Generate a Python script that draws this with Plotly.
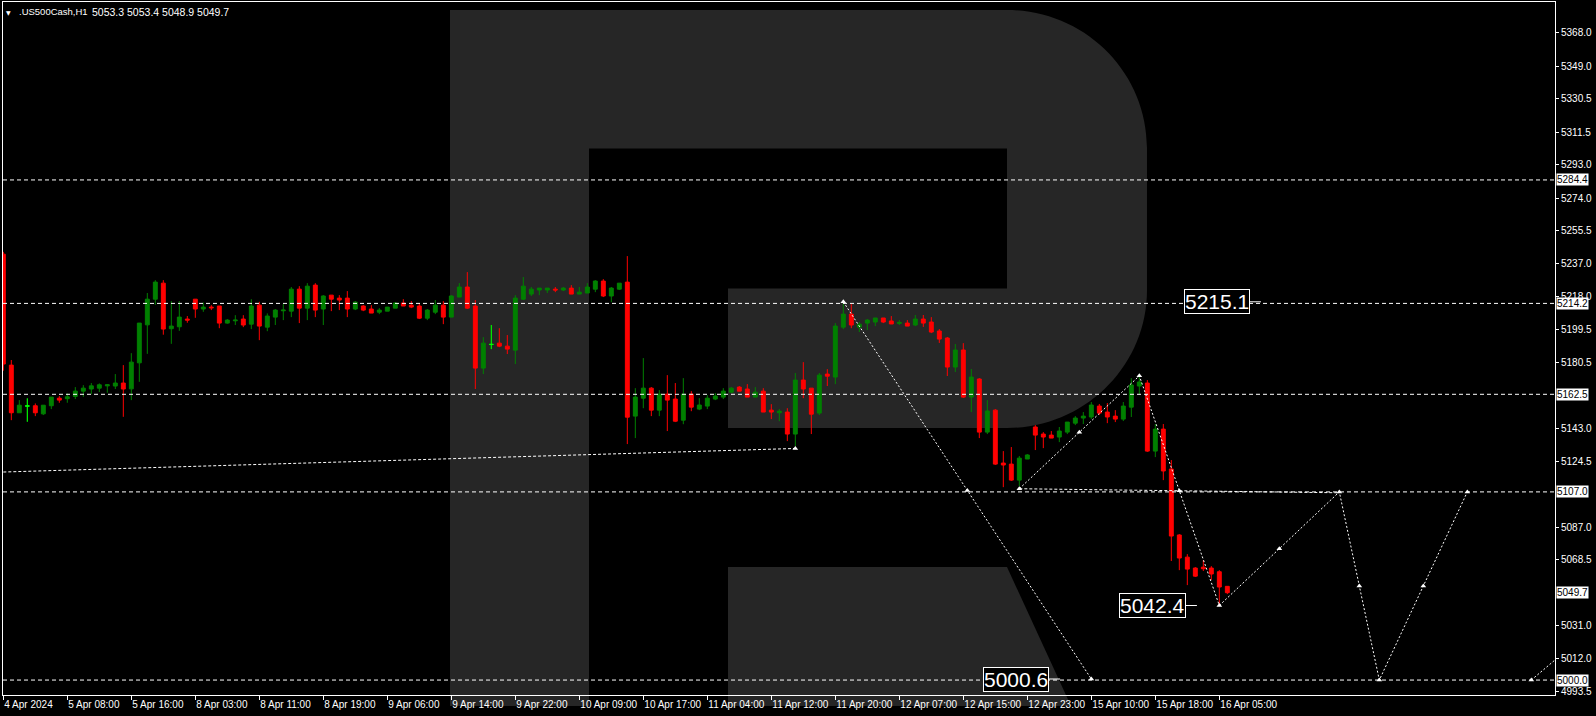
import plotly.graph_objects as go

# ---------------- data ----------------
opens = [5242.2, 5179.1, 5152.0, 5155.8, 5156.0, 5151.4, 5156.0, 5160.3, 5160.0, 5161.3,
         5164.3, 5165.5, 5166.0, 5167.3, 5167.2, 5168.9, 5165.6, 5180.4, 5202.0, 5216.6,
         5225.7, 5199.8, 5200.9, 5205.3, 5216.6, 5211.0, 5212.1, 5212.7, 5203.0, 5204.3,
         5205.3, 5202.4, 5213.2, 5200.7, 5206.4, 5210.0, 5209.8, 5222.3, 5211.5, 5224.6,
         5211.0, 5218.9, 5217.2, 5217.2, 5211.0, 5212.7, 5211.0, 5209.2, 5209.8, 5211.5,
         5214.4, 5213.2, 5212.7, 5205.8, 5209.2, 5213.2, 5206.4, 5217.8, 5223.5, 5212.7,
         5177.4, 5190.8, 5191.6, 5189.9, 5187.6, 5216.6, 5219.5, 5221.8, 5221.8, 5222.3,
         5221.8, 5222.9, 5219.5, 5220.1, 5222.3, 5226.9, 5218.4, 5222.3, 5226.3, 5150.1,
         5160.3, 5166.0, 5153.5, 5162.6, 5159.8, 5147.8, 5162.6, 5154.1, 5155.8, 5159.8,
         5160.9, 5163.7, 5166.6, 5165.5, 5160.9, 5164.3, 5153.5, 5152.0, 5152.4, 5139.9,
         5170.6, 5166.0, 5151.8, 5174.0, 5172.3, 5200.7, 5208.1, 5200.7, 5203.0, 5203.6,
         5205.9, 5204.2, 5202.8, 5203.0, 5201.9, 5205.3, 5203.6, 5198.5, 5194.5, 5178.0,
         5187.7, 5160.9, 5171.2, 5141.0, 5153.5, 5123.4, 5122.8, 5113.7, 5125.7, 5143.9,
         5139.9, 5139.3, 5138.2, 5141.0, 5146.1, 5149.0, 5149.6, 5155.8, 5152.4, 5150.1,
         5148.4, 5155.2, 5167.2, 5168.9, 5130.2, 5142.7, 5120.0, 5082.5, 5069.9, 5063.7,
         5064.2, 5063.7, 5061.6, 5053.3]
highs = [5243.5, 5182.0, 5159.2, 5160.2, 5157.3, 5156.3, 5160.9, 5161.5, 5163.0, 5166.6,
         5167.7, 5168.9, 5168.7, 5168.3, 5174.0, 5179.1, 5185.9, 5203.0, 5220.1, 5227.4,
         5227.4, 5215.5, 5215.5, 5207.0, 5216.6, 5214.7, 5213.2, 5212.7, 5205.3, 5207.5,
         5207.5, 5216.6, 5215.1, 5208.5, 5211.0, 5213.8, 5223.5, 5224.0, 5225.7, 5225.7,
         5218.9, 5218.9, 5218.9, 5221.2, 5215.5, 5213.2, 5213.2, 5211.5, 5212.1, 5214.9,
         5216.6, 5215.5, 5214.4, 5211.0, 5216.1, 5215.5, 5218.9, 5225.7, 5232.0, 5216.1,
         5195.0, 5201.9, 5200.1, 5196.2, 5218.9, 5229.2, 5223.5, 5222.9, 5222.9, 5223.5,
         5223.5, 5224.6, 5223.5, 5225.7, 5227.4, 5228.0, 5223.5, 5225.7, 5241.1, 5166.0,
         5183.1, 5166.6, 5164.9, 5173.4, 5168.9, 5171.7, 5164.3, 5160.3, 5162.0, 5163.2,
         5166.0, 5166.6, 5167.2, 5168.3, 5166.6, 5166.0, 5156.9, 5154.1, 5154.6, 5174.6,
         5180.8, 5166.0, 5174.6, 5176.8, 5203.0, 5215.5, 5213.8, 5203.6, 5205.3, 5205.9,
         5205.9, 5207.0, 5204.7, 5204.7, 5207.6, 5207.6, 5206.4, 5199.6, 5195.1, 5191.1,
         5191.6, 5176.9, 5171.7, 5159.2, 5154.1, 5130.2, 5132.5, 5127.4, 5128.5, 5145.0,
         5141.0, 5141.6, 5143.9, 5146.7, 5150.1, 5152.4, 5158.1, 5157.0, 5157.5, 5153.5,
         5158.1, 5171.7, 5173.4, 5170.6, 5145.6, 5145.6, 5125.1, 5083.0, 5071.6, 5064.2,
         5068.2, 5064.8, 5062.5, 5053.4]
lows = [5175.9, 5147.8, 5152.0, 5146.9, 5150.1, 5150.7, 5154.1, 5157.7, 5157.7, 5159.8,
        5161.1, 5162.6, 5163.8, 5163.4, 5165.5, 5149.7, 5159.2, 5169.6, 5185.5, 5213.4,
        5196.4, 5191.2, 5198.6, 5203.2, 5206.0, 5209.4, 5210.4, 5200.1, 5202.6, 5201.9,
        5200.7, 5199.6, 5193.3, 5198.4, 5201.9, 5204.7, 5206.4, 5203.0, 5204.7, 5206.4,
        5201.9, 5209.8, 5210.4, 5206.4, 5210.4, 5209.8, 5208.7, 5208.1, 5209.8, 5211.5,
        5212.7, 5211.5, 5205.3, 5204.7, 5208.1, 5202.4, 5206.4, 5217.8, 5211.0, 5165.5,
        5174.0, 5188.2, 5189.3, 5185.4, 5179.7, 5216.1, 5218.4, 5218.9, 5220.1, 5220.6,
        5221.2, 5219.5, 5219.5, 5220.1, 5220.6, 5217.8, 5214.9, 5221.8, 5134.2, 5137.6,
        5154.6, 5150.1, 5150.1, 5141.6, 5146.7, 5145.5, 5152.9, 5153.5, 5154.1, 5159.2,
        5159.8, 5163.2, 5164.3, 5160.9, 5160.9, 5152.4, 5148.4, 5147.2, 5135.9, 5133.0,
        5160.3, 5139.9, 5150.7, 5167.2, 5168.3, 5199.6, 5200.1, 5197.9, 5199.0, 5201.3,
        5203.0, 5202.5, 5201.9, 5201.3, 5201.3, 5200.8, 5197.3, 5191.7, 5172.9, 5175.2,
        5160.4, 5152.4, 5137.6, 5139.9, 5122.3, 5109.7, 5113.2, 5110.3, 5125.7, 5130.8,
        5131.9, 5137.6, 5135.3, 5139.9, 5145.0, 5145.6, 5148.4, 5150.7, 5146.1, 5146.7,
        5147.3, 5149.6, 5162.1, 5129.7, 5126.8, 5113.7, 5067.7, 5062.5, 5054.0, 5058.6,
        5062.0, 5056.9, 5042.4, 5048.9]
closes = [5179.7, 5152.0, 5156.3, 5155.9, 5152.0, 5156.3, 5160.9, 5159.2, 5161.1, 5164.3,
          5166.0, 5167.3, 5167.9, 5167.9, 5168.9, 5165.5, 5180.8, 5203.0, 5216.6, 5226.3,
          5199.6, 5201.3, 5206.4, 5204.7, 5211.0, 5212.1, 5211.7, 5203.0, 5204.7, 5204.7,
          5201.9, 5212.7, 5201.3, 5207.0, 5210.4, 5210.4, 5222.3, 5211.5, 5224.0, 5210.4,
          5218.4, 5216.6, 5216.1, 5211.0, 5214.9, 5210.4, 5208.7, 5210.4, 5212.1, 5214.4,
          5212.7, 5212.1, 5205.8, 5210.4, 5213.2, 5206.4, 5218.4, 5223.5, 5211.5, 5177.4,
          5191.6, 5190.9, 5189.9, 5188.2, 5217.2, 5224.0, 5222.3, 5222.9, 5222.9, 5221.8,
          5222.9, 5219.5, 5220.6, 5223.5, 5226.9, 5218.4, 5222.9, 5225.7, 5149.5, 5160.9,
          5166.0, 5153.5, 5162.6, 5159.2, 5147.2, 5162.6, 5155.2, 5156.4, 5160.3, 5161.5,
          5164.3, 5166.0, 5164.3, 5160.9, 5163.7, 5152.4, 5152.4, 5152.9, 5139.9, 5170.6,
          5165.5, 5151.2, 5173.4, 5172.8, 5201.3, 5208.1, 5201.9, 5202.4, 5204.7, 5205.9,
          5203.6, 5202.5, 5203.4, 5201.3, 5205.3, 5203.0, 5197.9, 5193.9, 5178.0, 5187.7,
          5160.9, 5172.3, 5141.0, 5153.0, 5122.8, 5122.3, 5113.7, 5126.2, 5128.0, 5139.3,
          5138.2, 5137.6, 5141.6, 5146.7, 5149.0, 5150.1, 5156.4, 5151.8, 5149.6, 5148.4,
          5155.8, 5167.8, 5169.5, 5130.2, 5142.7, 5118.9, 5081.9, 5069.4, 5063.1, 5059.1,
          5063.3, 5060.3, 5052.9, 5049.7]
bars = list(range(len(opens)))
doji_bars = [3, 61]

tick_bars = list(range(0, 153, 8))
tick_labels = ["4 Apr 2024", "5 Apr 08:00", "5 Apr 16:00", "8 Apr 03:00", "8 Apr 11:00",
               "8 Apr 19:00", "9 Apr 06:00", "9 Apr 14:00", "9 Apr 22:00", "10 Apr 09:00",
               "10 Apr 17:00", "11 Apr 04:00", "11 Apr 12:00", "11 Apr 20:00", "12 Apr 07:00",
               "12 Apr 15:00", "12 Apr 23:00", "15 Apr 10:00", "15 Apr 18:00", "16 Apr 05:00"]

y_ticks = [5368.0, 5349.0, 5330.5, 5311.5, 5293.0, 5274.0, 5255.5, 5237.0, 5218.0, 5199.5,
           5180.5, 5143.0, 5124.5, 5087.0, 5068.5, 5031.0, 5012.0, 4993.5]

levels = [5284.4, 5214.2, 5162.5, 5107.0, 5000.0]
last_price = 5049.7

trend_bars = [0, 99]
trend_vals = [5118.3, 5131.7]

fc1_bars = [105, 136]
fc1_vals = [5215.1, 5000.6]
fc2_bars = [127, 142, 152, 167, 172, 183]
fc2_vals = [5108.8, 5173.0, 5042.4, 5107.0, 5000.0, 5107.0]
neck_bars = [127, 167]
neck_vals = [5108.8, 5106.5]
fc3_bars = [191, 196]
fc3_vals = [5000.0, 5019.3]

price_labels = ["5215.1", "5042.4", "5000.6"]
price_label_vals = [5215.1, 5042.4, 5000.6]

title_name = ".US500Cash,H1"
title_ohlc = "5053.3 5053.4 5048.9 5049.7"

# ---------------- figure ----------------
GREEN = "#008000"
RED = "#ff0000"
LIME = "#00ff00"
WHITE = "#ffffff"
AXFONT = "Liberation Sans, Arial, sans-serif"

fig = go.Figure()

fig.add_trace(go.Candlestick(
    x=bars, open=opens, high=highs, low=lows, close=closes,
    increasing=dict(line=dict(color=GREEN, width=1), fillcolor=GREEN),
    decreasing=dict(line=dict(color=RED, width=1), fillcolor=RED),
    hoverinfo="skip", showlegend=False))

fig.add_trace(go.Candlestick(
    x=[bars[i] for i in doji_bars],
    open=[opens[i] for i in doji_bars], high=[highs[i] for i in doji_bars],
    low=[lows[i] for i in doji_bars], close=[closes[i] for i in doji_bars],
    increasing=dict(line=dict(color=LIME, width=1), fillcolor=LIME),
    decreasing=dict(line=dict(color=LIME, width=1), fillcolor=LIME),
    hoverinfo="skip", showlegend=False))

def dotted(xs, ys, dash="2px,2px"):
    fig.add_trace(go.Scatter(x=xs, y=ys, mode="lines",
                             line=dict(color=WHITE, width=1, dash=dash),
                             hoverinfo="skip", showlegend=False))

def markers(xs, ys):
    fig.add_trace(go.Scatter(x=xs, y=ys, mode="markers",
                             marker=dict(symbol="triangle-up", size=5, color=WHITE,
                                         line=dict(width=0)),
                             hoverinfo="skip", showlegend=False))

def mids(xs, ys):
    mx = [(xs[k] + xs[k + 1]) / 2 for k in range(len(xs) - 1)]
    my = [(ys[k] + ys[k + 1]) / 2 for k in range(len(ys) - 1)]
    return mx, my

dotted(trend_bars, trend_vals, "3px,2px")
markers([trend_bars[-1]], [trend_vals[-1]])

dotted(neck_bars, neck_vals, "3px,2px")

dotted(fc1_bars, fc1_vals)
m1 = mids(fc1_bars, fc1_vals)
markers(fc1_bars + m1[0], fc1_vals + m1[1])

dotted(fc2_bars, fc2_vals)
m2 = mids(fc2_bars, fc2_vals)
markers(fc2_bars + m2[0], fc2_vals + m2[1])

dotted(fc3_bars, fc3_vals)
markers([fc3_bars[0]], [fc3_vals[0]])

# leader lines of the price labels
label_x = [155.8, 147.8, 130.7]
for lx, lv in zip(label_x, price_label_vals):
    fig.add_trace(go.Scatter(x=[lx, lx + 1.4], y=[lv, lv], mode="lines",
                             line=dict(color=WHITE, width=1),
                             hoverinfo="skip", showlegend=False))

# ---------------- layout ----------------
L, R, T, B = 3, 41, 2, 21
W, H = 1596, 716
PW, PH = W - L - R, H - T - B

def px(x):
    return (x - L) / PW

def py(y):
    return (H - B - y) / PH

def pt(x, y):
    return f"{px(x):.5f},{py(y):.5f}"

k = 0.5523
logo_main = ("M" + pt(450, 706) + " L" + pt(450, 10) + " L" + pt(1007, 10) +
             " C" + pt(1007 + k * 140, 10) + " " + pt(1147, 148 - k * 138) + " " + pt(1147, 148) +
             " L" + pt(1147, 290) +
             " C" + pt(1147, 290 + k * 138) + " " + pt(1007 + k * 140, 428) + " " + pt(1007, 428) +
             " L" + pt(728, 428) + " L" + pt(728, 288.6) + " L" + pt(1007, 288.6) +
             " L" + pt(1007, 148.4) + " L" + pt(589, 148.4) + " L" + pt(589, 706) + " Z")
logo_leg = ("M" + pt(728, 706) + " L" + pt(728, 567) + " L" + pt(1007, 567) +
            " L" + pt(1071, 706) + " Z")

shapes = [
    dict(type="path", path=logo_main, xref="paper", yref="paper",
         fillcolor="#262626", line=dict(width=0), layer="below"),
    dict(type="path", path=logo_leg, xref="paper", yref="paper",
         fillcolor="#262626", line=dict(width=0), layer="below"),
]
for lv in levels:
    shapes.append(dict(type="line", xref="paper", x0=0, x1=1, yref="y", y0=lv, y1=lv,
                       line=dict(color=WHITE, width=1, dash="4px,3px")))

annotations = []
for v in levels + [last_price]:
    annotations.append(dict(xref="paper", x=1, xanchor="left", xshift=1,
                            yref="y", y=v, yanchor="middle", text=f"{v:.1f}",
                            showarrow=False, bgcolor=WHITE, borderpad=0,
                            font=dict(family=AXFONT, size=10, color="#000000")))

for lx, lv, txt in zip(label_x, price_label_vals, price_labels):
    annotations.append(dict(xref="x", x=lx, xanchor="right", yref="y", y=lv,
                            yanchor="middle", text=txt, showarrow=False,
                            bgcolor="#000000", bordercolor=WHITE, borderwidth=1,
                            borderpad=0,
                            font=dict(family=AXFONT, size=21, color=WHITE)))

annotations.append(dict(xref="paper", x=0, xanchor="left", xshift=1,
                        yref="paper", y=1, yanchor="top", yshift=-5,
                        text="\u25bc", showarrow=False,
                        font=dict(family="DejaVu Sans", size=6, color=WHITE)))
annotations.append(dict(xref="paper", x=0, xanchor="left", xshift=14,
                        yref="paper", y=1, yanchor="top", yshift=-2,
                        text=title_name, showarrow=False,
                        font=dict(family=AXFONT, size=9.5, color=WHITE)))
annotations.append(dict(xref="paper", x=0, xanchor="left", xshift=87,
                        yref="paper", y=1, yanchor="top", yshift=-2,
                        text=title_ohlc, showarrow=False,
                        font=dict(family=AXFONT, size=10.5, color=WHITE)))

fig.update_layout(
    width=W, height=H,
    margin=dict(l=L, r=R, t=T, b=B, autoexpand=False),
    paper_bgcolor="#000000", plot_bgcolor="#000000",
    showlegend=False, hovermode=False,
    shapes=shapes, annotations=annotations,
    xaxis=dict(range=[-0.04, 193.96], tickmode="array", tickvals=tick_bars,
               ticktext=tick_labels, ticks="outside", ticklen=4, tickcolor=WHITE,
               ticklabelposition="outside right", tickangle=0, automargin=False,
               tickfont=dict(family=AXFONT, size=10, color=WHITE),
               showgrid=False, zeroline=False, showline=True, linecolor=WHITE,
               linewidth=1, mirror=True, rangeslider=dict(visible=False),
               fixedrange=True),
    yaxis=dict(side="right", range=[4991.5, 5385.6], tickmode="array",
               tickvals=y_ticks, ticktext=[f"{v:.1f}" for v in y_ticks],
               ticks="outside", ticklen=3, tickcolor=WHITE, automargin=False,
               tickfont=dict(family=AXFONT, size=10, color=WHITE),
               showgrid=False, zeroline=False, showline=True, linecolor=WHITE,
               linewidth=1, mirror=True, fixedrange=True),
)

fig.write_html("out.html", config={"displayModeBar": False},
               post_script="document.body.style.margin='0';document.body.style.padding='0';"
                           "document.body.style.background='#000';")
